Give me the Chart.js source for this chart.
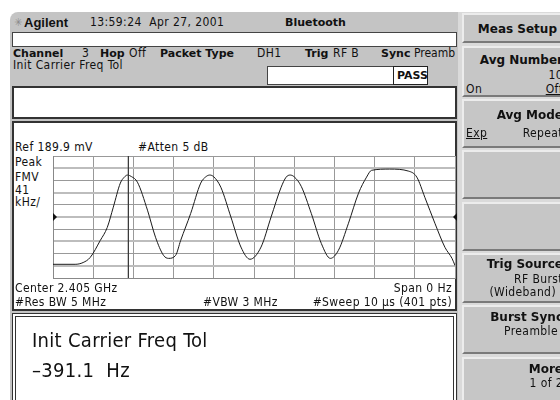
<!DOCTYPE html>
<html>
<head>
<meta charset="utf-8">
<script src="https://cdn.jsdelivr.net/npm/chart.js@4.4.0/dist/chart.umd.min.js"></script>
<style>
  body { margin:0; width:560px; height:400px; overflow:hidden; background:#fff; position:relative;
    font-family:"DejaVu Sans Condensed","Liberation Sans Narrow","DejaVu Sans",sans-serif; font-size:12px;
    letter-spacing:0.4px; color:#111; }
  .a { position:absolute; white-space:nowrap; line-height:1; }
  .b { font-family:"DejaVu Sans",sans-serif; font-weight:bold; font-size:11px; letter-spacing:0; }
  .box { position:absolute; background:#fff; box-sizing:border-box; }
  .key { position:absolute; left:462px; width:104px; box-sizing:border-box; background:#c6c6c6;
    border-top:2px solid #ececec; border-left:2px solid #ececec; border-bottom:2px solid #7a7a7a; }
  .key .t { position:absolute; right:3px; white-space:nowrap; line-height:1; }
  .key .l { position:absolute; left:2px; white-space:nowrap; line-height:1; }
  .key .b { font-size:12px; }
  .u { text-decoration:underline; }
</style>
</head>
<body>
<div id="leftPanel" style="position:absolute;left:10px;top:12px;width:448px;height:388px;background:#c4c4c4;border-top-left-radius:8px;"></div>
<div style="position:absolute;left:458px;top:12px;width:102px;height:388px;background:#dadada;"></div>

<!-- header line -->
<div class="a" style="left:14px;top:17px;color:#8a8a8a;font-size:11px;">✳</div>
<div class="a" style="left:24px;top:16px;font-family:'Liberation Sans','DejaVu Sans',sans-serif;font-weight:bold;font-size:13px;letter-spacing:0;">Agilent</div>
<div class="a" style="left:90px;top:16px;">13:59:24&nbsp;&nbsp;Apr 27, 2001</div>
<div class="a b" style="left:285px;top:17px;">Bluetooth</div>
<div class="box" style="left:12px;top:32px;width:445px;height:15px;border:1px solid #444;"></div>

<!-- channel line -->
<div class="a b" style="left:13px;top:48px;">Channel</div>
<div class="a" style="left:82px;top:47px;">3</div>
<div class="a b" style="left:100px;top:48px;">Hop</div>
<div class="a" style="left:129px;top:47px;">Off</div>
<div class="a b" style="left:160px;top:48px;">Packet Type</div>
<div class="a" style="left:257px;top:47px;">DH1</div>
<div class="a b" style="left:305px;top:48px;">Trig</div>
<div class="a" style="left:333px;top:47px;">RF B</div>
<div class="a b" style="left:381px;top:48px;">Sync</div>
<div class="a" style="left:414px;top:47px;letter-spacing:0;">Preamb</div>
<div class="a" style="left:13px;top:59px;">Init Carrier Freq Tol</div>
<div class="box" style="left:267px;top:66px;width:127px;height:19px;border:1px solid #444;"></div>
<div class="box" style="left:393px;top:66px;width:35px;height:19px;border:1px solid #222;"></div>
<div class="a b" style="left:397px;top:70px;">PASS</div>

<!-- upper message box -->
<div class="box" style="left:12px;top:86px;width:445px;height:33px;border:2px solid #333;"></div>

<!-- chart panel -->
<div class="box" style="left:12px;top:121px;width:445px;height:190px;border:2px solid #333;"></div>
<div class="a" style="left:15px;top:141px;">Ref 189.9 mV</div>
<div class="a" style="left:138px;top:141px;">#Atten 5 dB</div>
<div class="a" style="left:15px;top:156px;">Peak</div>
<div class="a" style="left:15px;top:171px;">FMV</div>
<div class="a" style="left:15px;top:184px;">41</div>
<div class="a" style="left:15px;top:196px;">kHz/</div>
<div style="position:absolute;left:43px;top:150px;width:422px;height:134px;">
  <canvas id="fmChart"></canvas>
</div>
<div class="a" style="left:15px;top:282px;">Center 2.405 GHz</div>
<div class="a" style="right:108px;top:282px;">Span 0 Hz</div>
<div class="a" style="left:15px;top:296px;">#Res BW 5 MHz</div>
<div class="a" style="left:203px;top:296px;">#VBW 3 MHz</div>
<div class="a" style="right:108px;top:296px;">#Sweep 10 μs (401 pts)</div>

<!-- result panel -->
<div class="box" style="left:12px;top:313px;width:445px;height:92px;border:4px double #333;"></div>
<div class="a" style="left:32px;top:330px;font-size:20px;letter-spacing:0.3px;">Init Carrier Freq Tol</div>
<div class="a" style="left:32px;top:360px;font-size:20px;letter-spacing:0.3px;">–391.1&nbsp;&nbsp;Hz</div>

<!-- softkeys -->
<div class="key" style="top:13px;height:30px;"><div class="t b" style="top:8px;right:9px;">Meas Setup</div></div>
<div class="key" style="top:46px;height:51px;">
  <div class="t b" style="top:6px;">Avg Number</div>
  <div class="t" style="top:21px;">10</div>
  <div class="l" style="top:35px;">On</div>
  <div class="t u" style="top:35px;">Off</div>
</div>
<div class="key" style="top:99px;height:49px;">
  <div class="t b" style="top:8px;">Avg Mode</div>
  <div class="l u" style="top:26px;">Exp</div>
  <div class="t" style="top:26px;">Repeat</div>
</div>
<div class="key" style="top:150px;height:49px;"></div>
<div class="key" style="top:202px;height:49px;"></div>
<div class="key" style="top:253px;height:50px;">
  <div class="t b" style="top:3px;">Trig Source</div>
  <div class="t" style="top:18px;">RF Burst</div>
  <div class="t" style="top:31px;right:10px;">(Wideband)</div>
</div>
<div class="key" style="top:305px;height:49px;">
  <div class="t b" style="top:4px;">Burst Sync</div>
  <div class="t" style="top:18px;right:8px;">Preamble</div>
</div>
<div class="key" style="top:357px;height:50px;">
  <div class="t b" style="top:4px;">More</div>
  <div class="t" style="top:18px;">1 of 2</div>
</div>

<script>
// trace: sample index (401 pts over 10 us) and FM deviation in kHz
const sampleIdx = [0, 22, 30, 37, 47, 54, 60, 67, 71, 74, 78, 84, 94, 102, 110, 115, 122, 127, 137, 147, 152, 156, 160, 167, 177, 187, 196, 207, 217, 227, 232, 236, 240, 247, 257, 267, 276, 284, 294, 304, 312, 317, 335, 354, 362, 370, 380, 390, 397, 400];
const fmDevKHz  = [-159, -159, -153, -136, -79, -35, 33, 114, 134, 141, 136, 117, 23, -68, -129, -139, -129, -79, 12, 114, 135, 141, 135, 100, 0, -101, -142, -101, 0, 100, 134, 141, 135, 103, 12, -89, -139, -112, -21, 80, 134, 157, 161, 154, 134, 66, -21, -102, -139, -163];
const markerIdx = 75;
const kHzPerDiv = 41;

const tracePoints = sampleIdx.map((v, i) => ({ x: v, y: fmDevKHz[i] }));

// marker line and the left/right reference arrows
const markerPlugin = {
    id: 'markerPlugin',
    afterDatasetsDraw(chart) {
        const { ctx, chartArea: a, scales } = chart;
        const mx = scales.x.getPixelForValue(markerIdx);
        const yc = scales.y.getPixelForValue(0);
        ctx.save();
        ctx.strokeStyle = '#3a3a3a';
        ctx.lineWidth = 1.3;
        ctx.beginPath();
        ctx.moveTo(mx, a.top);
        ctx.lineTo(mx, a.bottom);
        ctx.stroke();
        ctx.fillStyle = '#111';
        ctx.beginPath();
        ctx.moveTo(a.left, yc - 4);
        ctx.lineTo(a.left + 4, yc);
        ctx.lineTo(a.left, yc + 4);
        ctx.fill();
        ctx.beginPath();
        ctx.moveTo(a.right + 2, yc - 4);
        ctx.lineTo(a.right - 2, yc);
        ctx.lineTo(a.right + 2, yc + 4);
        ctx.fill();
        ctx.restore();
    }
};

var ctx = document.getElementById("fmChart").getContext("2d");
var fmChart = new Chart(ctx, {
    type: "line",
    data: {
        datasets: [{
            data: tracePoints,
            borderColor: "#1a1a1a",
            borderWidth: 1,
            pointRadius: 0,
            cubicInterpolationMode: 'monotone',
            fill: false
        }]
    },
    options: {
        responsive: true,
        maintainAspectRatio: false,
        animation: false,
        layout: { padding: { left: 10, right: 10, top: 6, bottom: 6 } },
        plugins: { legend: { display: false }, tooltip: { enabled: false } },
        scales: {
            x: {
                type: 'linear', min: 0, max: 400,
                ticks: { display: false, stepSize: 40 },
                grid: { color: '#999', drawTicks: false },
                border: { color: '#888' }
            },
            y: {
                min: -5 * kHzPerDiv, max: 5 * kHzPerDiv,
                ticks: { display: false, stepSize: kHzPerDiv },
                // every other horizontal line is drawn lighter and wider on the instrument
                grid: {
                    color: c => (c.index % 2 === 1 ? '#bdbdbd' : '#999'),
                    lineWidth: c => (c.index % 2 === 1 ? 2 : 1),
                    drawTicks: false
                },
                border: { color: '#888' }
            }
        }
    },
    plugins: [markerPlugin]
});
</script>
</body>
</html>
